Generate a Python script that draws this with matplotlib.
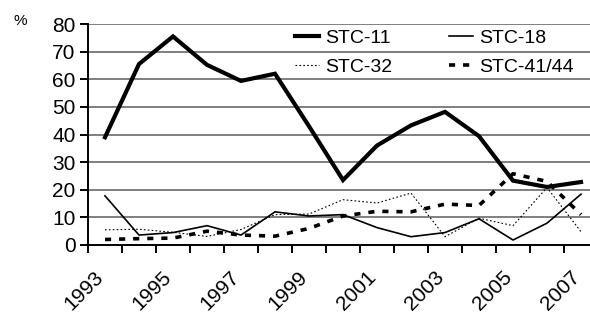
#!/usr/bin/env python3

import matplotlib
matplotlib.use('Agg')
import matplotlib.pyplot as plt
import matplotlib.transforms as mtransforms
import numpy as np

years = list(range(1993, 2008))
stc_11 = [39, 65.5, 75.5, 65.2, 59.4, 62, 43, 23.5, 36, 43.3, 48.2, 39.4, 23.3, 21, 22.8]
stc_18 = [17.8, 3.6, 4.5, 7, 3.6, 12, 10.5, 11, 6.3, 3, 4.5, 9.5, 1.8, 7.9, 18.4]
stc_32 = [5.5, 5.7, 4.6, 3.1, 5.6, 11, 11.2, 16.4, 15.2, 18.8, 3, 9.7, 7, 20.8, 4.8]
stc_41 = [2, 2.3, 2.5, 5, 3.6, 3.2, 6, 10.5, 12.2, 12, 14.8, 14.3, 25.8, 23, 11]
series_names = ['STC-11', 'STC-18', 'STC-32', 'STC-41/44']

plt.rcParams['font.family'] = ['Liberation Sans', 'DejaVu Sans']

fig = plt.figure(figsize=(5.9, 3.13), dpi=100)
ax = fig.add_axes([88/590, 68/313, 510/590, 221/313])

x = np.arange(len(years))
h11, = ax.plot(x, stc_11, color='black', lw=3.0, solid_joinstyle='miter', label=series_names[0], zorder=5)
h18, = ax.plot(x, stc_18, color='black', lw=1.2, label=series_names[1], zorder=4)
h32, = ax.plot(x, stc_32, color='black', lw=0.8, linestyle=(0, (1.5, 2.0)), label=series_names[2], zorder=3)
h41, = ax.plot(x, stc_41, color='black', lw=2.6, linestyle=(0, (1.7, 2.2)), label=series_names[3], zorder=4)

# Axis ranges and grid
ax.set_xlim(-0.5, len(years) - 0.5)
ax.set_ylim(0, 80)
ax.set_yticks(range(0, 81, 10))
for v in range(10, 81, 10):
    ax.axhline(v, color='#7f7f7f', lw=1.4, zorder=1)

ax.spines['top'].set_visible(False)
ax.spines['right'].set_visible(False)
ax.spines['left'].set_linewidth(1.4)
ax.spines['bottom'].set_linewidth(1.4)

# category ticks between years, labels every other year
ax.set_xticks(np.arange(-0.5, len(years)), minor=True)
ax.set_xticks(x[::2])
ax.set_xticklabels([str(y) for y in years[::2]], rotation=45, ha='right',
                   va='top', rotation_mode='anchor', fontsize=15)
ax.tick_params(axis='x', which='major', length=0, pad=16)
ax.tick_params(axis='x', which='minor', length=6, width=1.4, direction='out')
ax.tick_params(axis='y', length=6, width=1.4, direction='out', labelsize=15, pad=3)

shift = mtransforms.ScaledTranslation(-0.11, 0.0, fig.dpi_scale_trans)
for lbl in ax.get_xticklabels():
    lbl.set_transform(lbl.get_transform() + shift)

fig.text(13/590, 1 - 25/313, '%', fontsize=11, va='baseline')

# column-wise fill, so order handles to get rows (11, 18) and (32, 41/44)
leg = ax.legend([h11, h32, h18, h41], [series_names[0], series_names[2], series_names[1], series_names[3]],
                ncol=2, frameon=False, loc='upper left', bbox_to_anchor=(207/510, 1 - 5/221),
                prop={'size': 14}, handlelength=1.25, handletextpad=0.3,
                columnspacing=2.9, labelspacing=0.6, borderpad=0, borderaxespad=0)

fig.savefig('out.png', dpi=100)
